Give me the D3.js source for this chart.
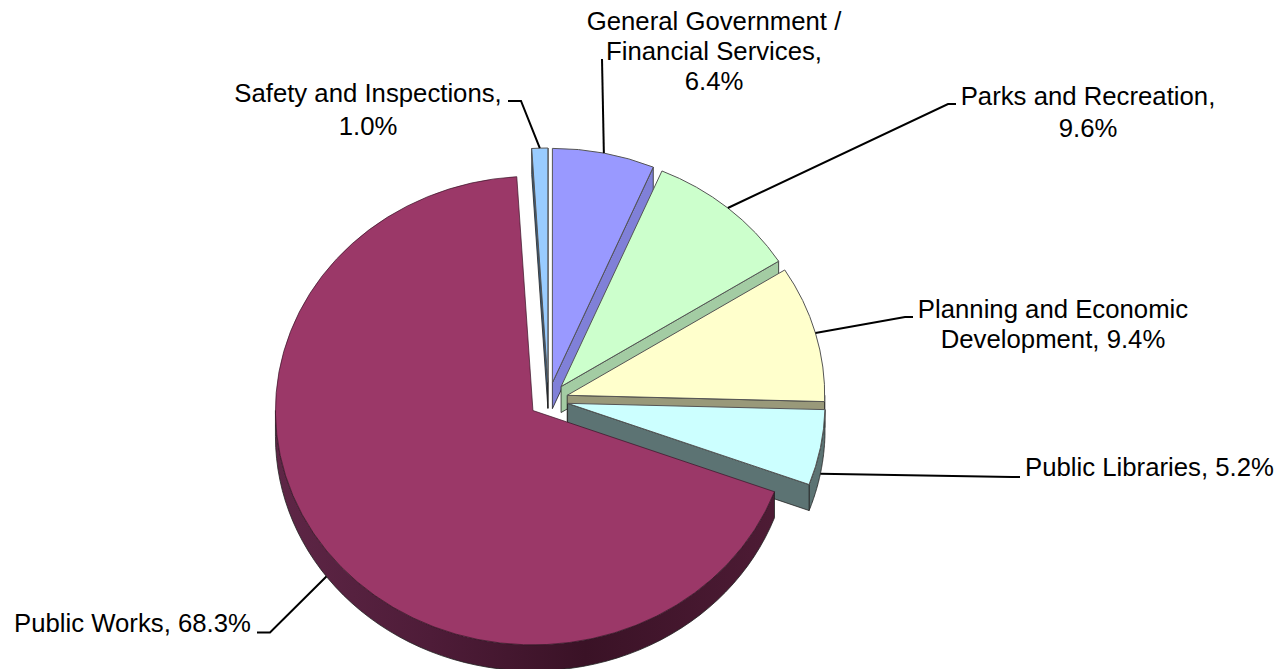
<!DOCTYPE html>
<html>
<head>
<meta charset="utf-8">
<script src="https://cdn.jsdelivr.net/npm/d3@7/dist/d3.min.js"></script>
<style>
  html, body { margin: 0; padding: 0; background: #fff; overflow: hidden; }
  text { font-family: "Liberation Sans", Arial, sans-serif; font-size: 25px; fill: #000; }
</style>
</head>
<body>
<svg id="chart" width="1281" height="669"></svg>
<script>
// Budget share by department, clockwise from just left of 12 o'clock.
const categories = ["Safety and Inspections", "General Government / Financial Services",
  "Parks and Recreation", "Planning and Economic Development", "Public Libraries", "Public Works"];
const shares = [1.0, 6.4, 9.6, 9.4, 5.2, 68.3];
const topColors = ["#99CCFF", "#9999FF", "#CCFFCC", "#FFFFCC", "#CCFFFF", "#9B3868"];
const wallColors = ["#3F5F7F", "#8080D8", "#A3CCA3", "#99997A", "#5C7373", "url(#worksWall)"];
const labelLines = [
  ["Safety and Inspections,", "1.0%"],
  ["General Government /", "Financial Services,", "6.4%"],
  ["Parks and Recreation,", "9.6%"],
  ["Planning and Economic", "Development, 9.4%"],
  ["Public Libraries, 5.2%"],
  ["Public Works, 68.3%"]
];

// Pie geometry: tilted ellipse, extrusion depth and the radial pull of each wedge.
const cx = 548.5, cy = 400, radius = 257.5, tilt = 0.91, depth = 26, explode = 19.4;
const startDeg = -3.6;
const textStretch = 1.03;

// Leader elbows and label anchors for each wedge.
const elbows = [[[521, 101], [508, 101]], [[602, 59]], [[948, 104], [956, 104]],
  [[905, 317], [913, 317]], [[1012, 477], [1020, 477]], [[270, 632.5], [257, 632.5]]];
const labelAnchors = [
  { x: 368, y: 102, lh: 33, a: "middle" }, { x: 714, y: 30, lh: 30, a: "middle" },
  { x: 1088, y: 105, lh: 32, a: "middle" }, { x: 1053, y: 318, lh: 30, a: "middle" },
  { x: 1025, y: 476, lh: 30, a: "start" }, { x: 14, y: 632, lh: 30, a: "start" }
];

const svg = d3.select("#chart");
const defs = svg.append("defs");
const grad = defs.append("linearGradient").attr("id", "worksWall")
  .attr("gradientUnits", "userSpaceOnUse")
  .attr("x1", cx - radius - 15).attr("x2", cx + radius - 15).attr("y1", 0).attr("y2", 0);
[[0, "#5E2646"], [0.3, "#4E1C38"], [0.6, "#3A1226"], [1, "#4F1C36"]].forEach(([o, c]) =>
  grad.append("stop").attr("offset", o).attr("stop-color", c));

const pie = d3.pie().sort(null)
  .startAngle(startDeg * Math.PI / 180)
  .endAngle(startDeg * Math.PI / 180 + 2 * Math.PI);
const slices = pie(shares);
const arc = d3.arc().innerRadius(0).outerRadius(radius);
const line = d3.line();

// Project a pie-plane polar position onto the screen.
const project = (o, ang, r) => [o[0] + r * Math.sin(ang), o[1] - r * tilt * Math.cos(ang)];
const apexOf = s => {
  const mid = (s.startAngle + s.endAngle) / 2;
  return project([cx, cy], mid, explode);
};

slices.forEach((s, i) => {
  const apex = apexOf(s);
  const g = svg.append("g");
  const wall = pts => g.append("path").attr("d", line(pts) + "Z")
    .attr("fill", wallColors[i]).attr("stroke", "#222").attr("stroke-width", 0.8)
    .attr("stroke-linejoin", "round");

  // Outer rim, only the part that faces the viewer.
  const a0 = Math.max(s.startAngle, Math.PI / 2), a1 = Math.min(s.endAngle, 3 * Math.PI / 2);
  if (a1 > a0) {
    const top = d3.range(0, 61).map(t => project(apex, a0 + (a1 - a0) * t / 60, radius));
    const bottom = top.map(p => [p[0], p[1] + depth]).reverse();
    wall(top.concat(bottom));
  }
  // Radial cut faces that turn towards the viewer.
  const face = ang => {
    const p = project(apex, ang, radius);
    wall([apex, p, [p[0], p[1] + depth], [apex[0], apex[1] + depth]]);
  };
  if (Math.sin(s.startAngle) < 0) face(s.startAngle);
  if (Math.sin(s.endAngle) > 0) face(s.endAngle);

  // Top face.
  g.append("path")
    .attr("transform", `translate(${apex[0]},${apex[1]}) scale(1,${tilt})`)
    .attr("d", arc(s))
    .attr("fill", topColors[i])
    .attr("stroke", i === 5 ? "#3a1226" : "#555")
    .attr("stroke-width", i === 5 ? 0.7 : 1)
    .style("vector-effect", "non-scaling-stroke");
});

// Leader lines and labels.
slices.forEach((s, i) => {
  const mid = (s.startAngle + s.endAngle) / 2;
  const rim = project(apexOf(s), mid, radius);
  const lower = Math.cos(mid) < 0;
  const start = lower ? [rim[0], rim[1] + depth] : rim;
  svg.append("path").attr("d", line([start, ...elbows[i]]))
    .attr("fill", "none").attr("stroke", "#000").attr("stroke-width", 2);
  const a = labelAnchors[i];
  labelLines[i].forEach((t, j) => {
    svg.append("text")
      .attr("transform", `translate(${a.x},${a.y + j * a.lh}) scale(${textStretch},1)`)
      .attr("text-anchor", a.a).text(t);
  });
});
</script>
</body>
</html>
